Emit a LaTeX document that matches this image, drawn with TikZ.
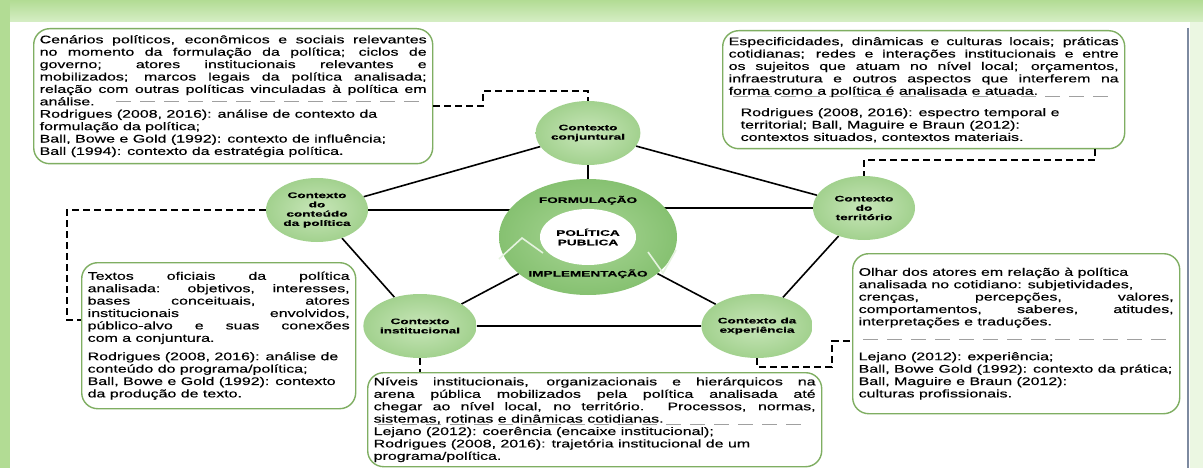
\documentclass[tikz,border=0pt]{standalone}
\usepackage{fontspec}
\usepackage{xcolor}
\usepackage{tikz}
\usetikzlibrary{positioning,shapes.geometric,backgrounds}
\setmainfont{Liberation Sans}
\newfontfamily\boxfont[FakeStretch=1.45,FakeBold=0.4]{Liberation Sans}
\newfontfamily\ctxfont[FakeStretch=1.7,FakeBold=0.4]{Liberation Sans}
\definecolor{framegreen}{HTML}{B2DC94}
\definecolor{bandlight}{HTML}{D6EEC5}
\definecolor{boxline}{HTML}{7FAE62}
\definecolor{ctxin}{HTML}{C8E6B9}
\definecolor{ctxout}{HTML}{A2D18E}
\definecolor{ringlight}{HTML}{A9D696}
\definecolor{ringgreen}{HTML}{86C171}
\definecolor{sepgray}{HTML}{A0A0A0}
\definecolor{sideline}{HTML}{7D8AA0}
\setlength{\parindent}{0pt}
\tolerance=10000
\hbadness=10000
\newcommand{\sepdash}[1][3pt]{\leavevmode{\color{sepgray}\leaders\hbox to 24pt{\hss\rule[#1]{15pt}{0.9pt}\hss}\hfill}\kern0pt}
\newcommand{\sepunder}{\makebox[0pt][l]{\color{sepgray}\leaders\hbox to 24pt{\hss\rule[-2pt]{15pt}{0.9pt}\hss}\hskip\hsize}}

\begin{document}
\begin{tikzpicture}[x=1pt, y=-1pt,
  infobox/.style={draw=boxline, line width=1.4pt, rounded corners=16pt, fill=white, anchor=north west, align=justify, inner xsep=6pt, inner ysep=4pt, font=\boxfont\fontsize{11}{12.4}\selectfont},
  ctx/.style={ellipse, minimum width=102pt, minimum height=64pt, inner sep=0pt, inner color=ctxin, outer color=ctxout, align=center, font=\ctxfont\bfseries\fontsize{8}{9.3}\selectfont},
  ring/.style={ellipse, minimum width=178pt, minimum height=116pt, inner color=ringlight, outer color=ringgreen},
  hub/.style={ellipse, minimum width=96pt, minimum height=56pt, inner sep=0pt, fill=white, align=center, font=\ctxfont\bfseries\fontsize{8}{9.5}\selectfont},
  ringlbl/.style={inner sep=1pt, font=\ctxfont\bfseries\fontsize{8}{9.5}\selectfont},
  solidlink/.style={line width=1.6pt, black},
  dashlink/.style={line width=1.8pt, black, dash pattern=on 7pt off 4pt}
]
  \useasboundingbox (0,0) rectangle (1203,468);

  \node[ctx] (conj) at (588,133) {Contexto\\conjuntural};
  \node[ctx] (cont) at (317,210) {Contexto\\do\\conteúdo\\da política};
  \node[ctx] (terr) at (864,208) {Contexto\\do\\território};
  \node[ctx] (inst) at (420,326) {Contexto\\institucional};
  \node[ctx] (expe) at (757,326) {Contexto da\\experiência};

  \node[ring] (ring) at (588,237) {};
  \draw[white!70!ringlight, line width=1.6pt] (499,259) -- (522,238) -- (543,253);
  \draw[white!70!ringlight, line width=1.6pt] (648,252) -- (663,273) -- (676,250);
  \node[hub] (hub) at (ring.center) {POLÍTICA\\PUBLICA};
  \node[ringlbl, above=3pt of hub] (formu) {FORMULAÇÃO};
  \node[ringlbl, below=3pt of hub] (imple) {IMPLEMENTAÇÃO};

  \begin{scope}[on background layer]
    \fill[white] (0,0) rectangle (1203,468);
    \shade[top color=framegreen, bottom color=bandlight] (0,0) rectangle (1203,22);
    \fill[framegreen] (0,0) rectangle (10,468);
    \fill[bandlight!50!white] (1190,22) rectangle (1203,468);
    \draw[sideline, line width=1.2pt] (1188,28) -- (1188,468);
    \draw[solidlink] (conj) -- (cont) -- (inst) -- (expe) -- (terr) -- (conj);
    \draw[solidlink] (conj) -- (ring);
    \draw[solidlink] (cont) -- (cont -| ring);
    \draw[solidlink] (terr) -- (terr -| ring);
    \draw[solidlink] (inst) -- (ring);
    \draw[solidlink] (expe) -- (ring);
  \end{scope}

  \node[infobox, text width=387pt, minimum height=135pt] (tlbox) at (33,28) {Cenários políticos, econômicos e sociais relevantes\linebreak
no momento da formulação da política; ciclos de\linebreak
governo; atores institucionais relevantes e\linebreak
mobilizados; marcos legais da política analisada;\linebreak
relação com outras políticas vinculadas à política em\linebreak
análise.\ \sepdash\par
Rodrigues (2008, 2016): análise de contexto da\\
formulação da política;\\
Ball, Bowe e Gold (1992): contexto de influência;\\
Ball (1994): contexto da estratégia política.};

  \node[infobox, text width=390pt, minimum height=118pt] (trbox) at (722,30) {Especificidades, dinâmicas e culturas locais; práticas\linebreak
cotidianas; redes e interações institucionais e entre\linebreak
os sujeitos que atuam no nível local; orçamentos,\linebreak
infraestrutura e outros aspectos que interferem na\linebreak
\sepunder forma como a política é analisada e atuada.\par
\vskip9pt
\hspace*{12pt}Rodrigues (2008, 2016): espectro temporal e\\
\hspace*{12pt}territorial; Ball, Maguire e Braun (2012):\\
\hspace*{12pt}contextos situados, contextos materiais.};

  \node[infobox, text width=262pt, minimum height=146pt] (blbox) at (81,262) {Textos oficiais da política\linebreak
analisada: objetivos, interesses,\linebreak
bases conceituais, atores\linebreak
institucionais envolvidos,\linebreak
público-alvo e suas conexões\linebreak
com a conjuntura.\par
\vskip6pt
Rodrigues (2008, 2016): análise de\\
conteúdo do programa/política;\\
Ball, Bowe e Gold (1992): contexto\\
da produção de texto.};

  \node[infobox, text width=315pt, minimum height=160pt] (brbox) at (852,253) {Olhar dos atores em relação à política\\
analisada no cotidiano: subjetividades,\\
crenças, percepções, valores,\linebreak
comportamentos, saberes, atitudes,\linebreak
interpretações e traduções.\par
\vskip5pt\sepdash\par\vskip5pt
Lejano (2012): experiência;\\
Ball, Bowe Gold (1992): contexto da prática;\\
Ball, Maguire e Braun (2012):\\
culturas profissionais.};

  \node[infobox, text width=442pt, minimum height=94pt] (nvbox) at (367,372) {Níveis institucionais, organizacionais e hierárquicos na\linebreak
arena pública mobilizados pela política analisada até\linebreak
chegar ao nível local, no território. Processos, normas,\linebreak
\sepunder sistemas, rotinas e dinâmicas cotidianas.\par
Lejano (2012): coerência (encaixe institucional);\\
Rodrigues (2008, 2016): trajetória institucional de um\\
programa/política.};

  \coordinate (bendtl) at (483,91);
  \coordinate (bendtr) at (1095,160);
  \coordinate (bendbl) at (67,320);
  \coordinate (bendbr) at (832,367);

  \draw[dashlink] ([yshift=-10pt]tlbox.east) -| (bendtl) -| (conj.north);
  \draw[dashlink] (bendtr |- trbox.south) -- (bendtr) -| (terr.north);
  \draw[dashlink] (cont.west) -| (bendbl) -- (bendbl -| blbox.west);
  \draw[dashlink] (inst.south) -- (inst.south |- nvbox.north);
  \draw[dashlink] (expe.south) |- (bendbr) |- ([yshift=-7pt]brbox.west);
\end{tikzpicture}
\end{document}
